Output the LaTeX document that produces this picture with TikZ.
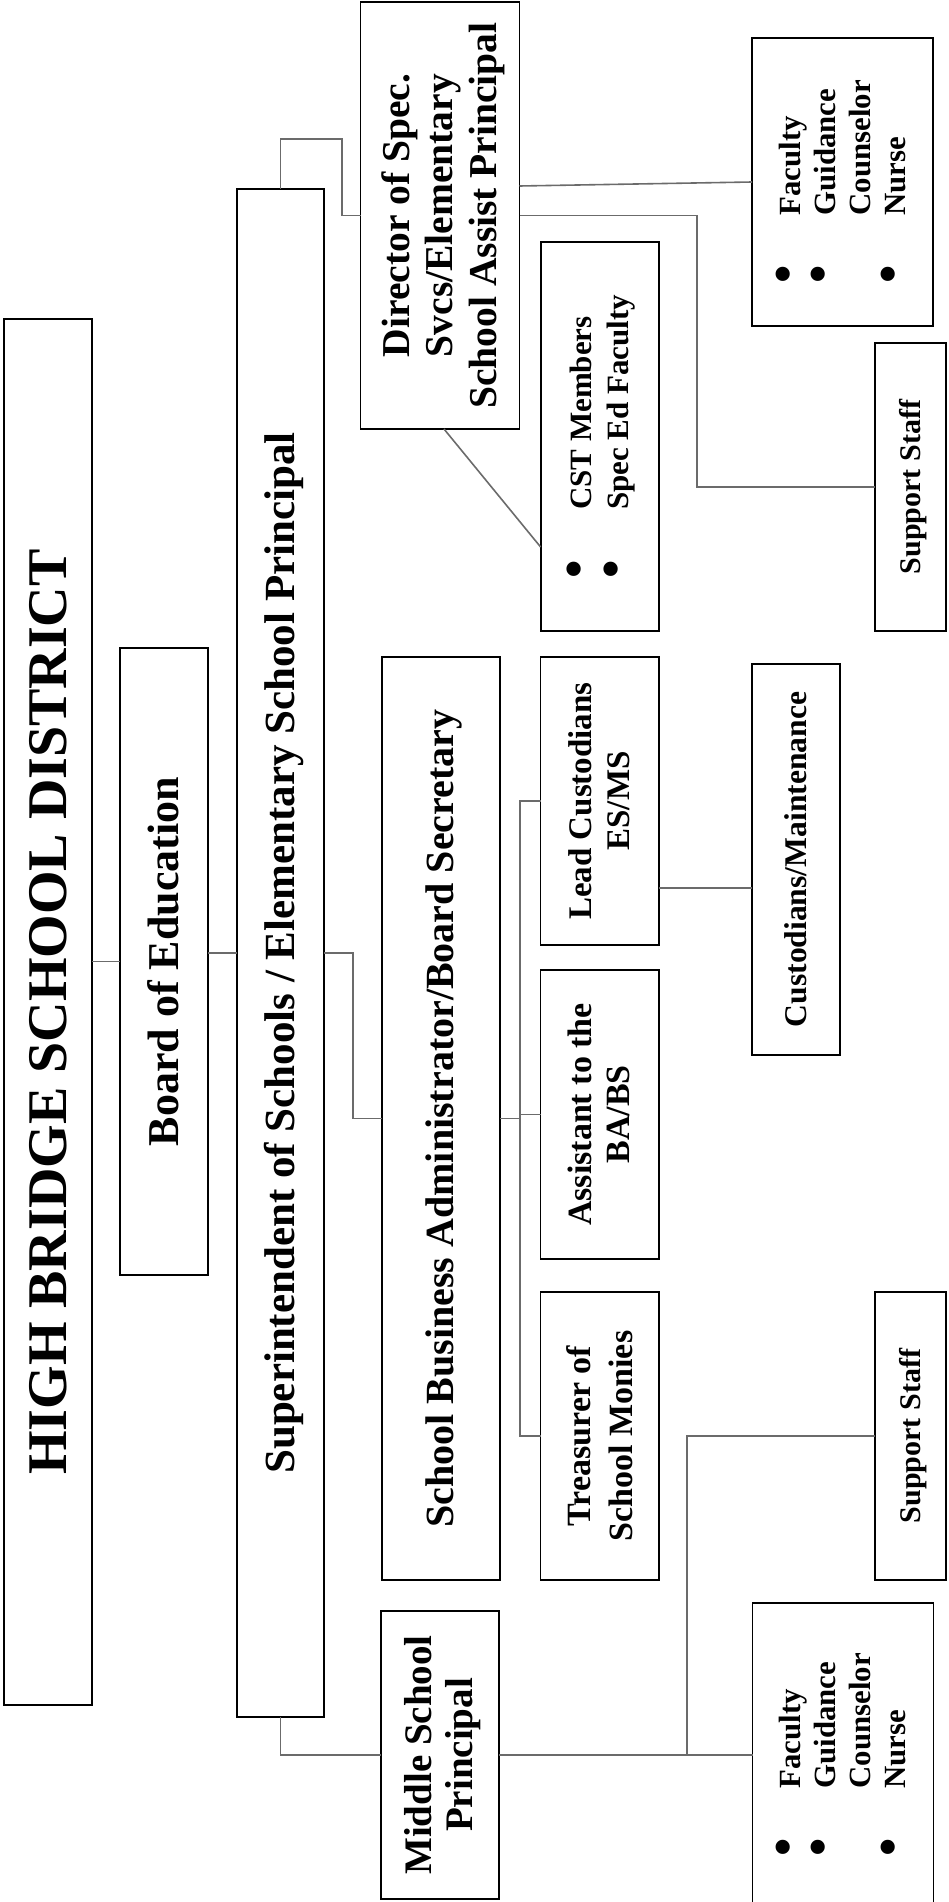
\documentclass[tikz,border=0pt]{standalone}
\usepackage{fontspec}
\setmainfont{Liberation Serif}
\usetikzlibrary{calc}
\definecolor{linkgray}{HTML}{6B6B6B}
\newcommand{\rtxt}[3]{\rotatebox{90}{\fontsize{#1}{#2}\selectfont\bfseries\raisebox{-0.1em}[\height][\depth]{\begin{tabular}{@{}c@{}}#3\end{tabular}}}}
\newcommand{\rlist}[3]{\rotatebox{90}{\fontsize{#1}{#2}\selectfont\bfseries\raisebox{-0.1em}[\height][\depth]{\begin{tabular}{@{}l@{\hspace{50pt}}l@{}}#3\end{tabular}}}}
\newcommand{\bul}{\scalebox{1.7}{\textbullet}}
\begin{document}
\begin{tikzpicture}[x=1pt,y=-1pt,
  box/.style={draw=black,line width=1.8pt,inner sep=0pt,outer sep=0pt},
  link/.style={draw=linkgray,line width=1.6pt}]
\useasboundingbox (0,0) rectangle (948,1902);
\clip (0,0) rectangle (948,1902);
% boxes
\node[box,minimum width=88pt,minimum height=1386pt] (hb) at (48,1012) {\rtxt{56}{62}{HIGH BRIDGE SCHOOL DISTRICT}};
\node[box,minimum width=88pt,minimum height=627pt] (board) at (164,961.5) {\rtxt{44}{48}{Board of Education}};
\node[box,minimum width=87pt,minimum height=1528pt] (sup) at (280.5,953) {\rtxt{43}{47}{Superintendent of Schools / Elementary School Principal}};
\node[box,minimum width=159pt,minimum height=427pt] (dir) at (440,215.5) {\rtxt{39.5}{43.5}{Director of Spec.\\Svcs/Elementary\\School Assist Principal}};
\node[box,minimum width=118pt,minimum height=389pt] (cst) at (599.6,436.5) {\rlist{31}{37}{\bul & CST Members\\ \bul & Spec Ed Faculty}};
\node[box,minimum width=181pt,minimum height=288pt] (fac1) at (842.5,182) {\rlist{30.8}{35}{\bul & Faculty\\ \bul & Guidance\\ & Counselor\\ \bul & Nurse}};
\node[box,minimum width=71pt,minimum height=288pt] (ss1) at (910.5,487) {\rtxt{30}{34}{Support Staff}};
\node[box,minimum width=118pt,minimum height=923pt] (sba) at (441,1118.5) {\rtxt{40}{44}{School Business Administrator/Board Secretary}};
\node[box,minimum width=118.5pt,minimum height=288pt] (lead) at (599.75,801) {\rtxt{33}{38}{Lead Custodians\\ES/MS}};
\node[box,minimum width=88pt,minimum height=391pt] (cm) at (796,859.5) {\rtxt{31.6}{35}{Custodians/Maintenance}};
\node[box,minimum width=118.5pt,minimum height=289pt] (asst) at (599.75,1114.5) {\rtxt{34}{38}{Assistant to the\\BA/BS}};
\node[box,minimum width=118.5pt,minimum height=288pt] (treas) at (599.75,1436) {\rtxt{34}{42}{Treasurer of\\School Monies}};
\node[box,minimum width=71pt,minimum height=288pt] (ss2) at (910.5,1436) {\rtxt{30}{34}{Support Staff}};
\node[box,minimum width=118pt,minimum height=288pt] (msp) at (440,1755) {\rtxt{39}{41}{Middle School\\Principal}};
\node[box,minimum width=181pt,minimum height=304pt] (fac2) at (843,1755) {\rlist{30.8}{35}{\bul & Faculty\\ \bul & Guidance\\ & Counselor\\ \bul & Nurse}};
% connectors
\draw[link] (board.west -| hb.east) -- (board.west);
\draw[link] (sup.west -| board.east) -- (sup.west);
\coordinate (j1) at (342,139);
\draw[link] (sup.north) |- (j1) |- (dir.west);
\draw[link] ([yshift=29.5pt]dir.east) -- (fac1.west);
\draw[link] (dir.east) -- ++(177.5pt,0pt) |- (ss1.west);
\draw[link] ([xshift=4pt]dir.south) -- ([yshift=-110.5pt]cst.west);
\draw[link] (sup.east) -- ++(29pt,0pt) |- (sba.west);
\coordinate (bus) at (520,1118.5);
\draw[link] (sba.east) -- (bus);
\draw[link] (lead.west) -| (bus) |- (treas.west);
\draw[link] (asst.west) -- (asst.west -| bus);
\draw[link] ([yshift=-87pt]lead.east) -- ([yshift=-87pt]lead.east -| cm.west);
\draw[link] (sup.south) |- (msp.west);
\draw[link] (msp.east) -- (fac2.west);
\coordinate (b2) at (687,1755);
\draw[link] (b2) |- (ss2.west);
\end{tikzpicture}
\end{document}
